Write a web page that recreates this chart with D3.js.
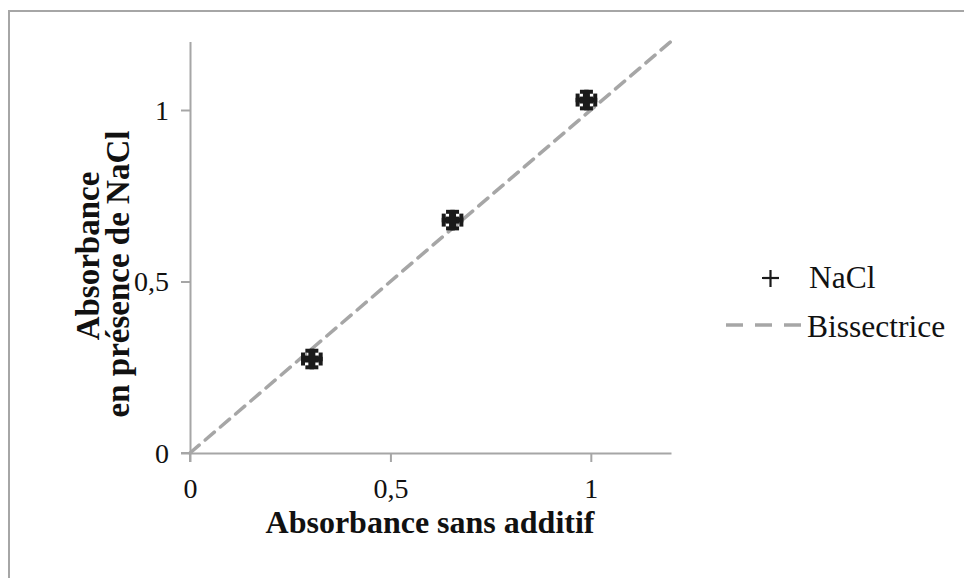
<!DOCTYPE html>
<html><head><meta charset="utf-8">
<script src="https://cdn.jsdelivr.net/npm/d3@7"></script>
<style>body{margin:0;background:#fff;}svg{display:block;}</style>
</head><body>
<svg id="c" width="964" height="578"></svg>
<script>
const xValues = [0.304, 0.655, 0.989];
const yValues = [0.274, 0.679, 1.029];
const xErr = [0.027, 0.027, 0.027];
const yErr = [0.03, 0.03, 0.03];
const bisector = [[0, 0], [1.2, 1.2]];
const xTicks = [0, 0.5, 1];
const yTicks = [0, 0.5, 1];
const tickLabels = {0: "0", 0.5: "0,5", 1: "1"};
const seriesNames = ["NaCl", "Bissectrice"];

const svg = d3.select("#c");
const font = "'Liberation Serif', 'Times New Roman', serif";
const axisColor = "#a6a6a6";

svg.append("rect").attr("x", 9).attr("y", 11).attr("width", 1000).attr("height", 1000)
  .attr("fill", "none").attr("stroke", axisColor).attr("stroke-width", 2);

const x = d3.scaleLinear().domain([0, 1.2]).range([190, 671]);
const y = d3.scaleLinear().domain([0, 1.2]).range([453, 41.4]);

const xAxis = svg.append("g").attr("transform", `translate(0,${y(0)})`)
  .call(d3.axisBottom(x).tickValues(xTicks).tickSize(9).tickSizeOuter(0).tickFormat(d => tickLabels[d]));
const yAxis = svg.append("g").attr("transform", `translate(${x(0)},0)`)
  .call(d3.axisLeft(y).tickValues(yTicks).tickSize(9).tickSizeOuter(0).tickFormat(d => tickLabels[d]));
[xAxis, yAxis].forEach(g => {
  g.attr("font-size", null).attr("font-family", null);
  g.select(".domain").attr("stroke", axisColor).attr("stroke-width", 2);
  g.selectAll(".tick line").attr("stroke", axisColor).attr("stroke-width", 2);
  g.selectAll("text").style("font-family", font).style("font-size", "28px").attr("fill", "#111");
});
xAxis.selectAll("text").attr("dy", null).attr("y", 45);
yAxis.selectAll("text").attr("x", -21).attr("dy", "0.33em");
svg.append("line").attr("x1", x(0) - 9).attr("x2", x(0)).attr("y1", y(0)).attr("y2", y(0))
  .attr("stroke", axisColor).attr("stroke-width", 2);
svg.append("line").attr("x1", x(0)).attr("x2", x(0)).attr("y1", y(0)).attr("y2", y(0) + 9)
  .attr("stroke", axisColor).attr("stroke-width", 2);

// bisector
svg.append("path").datum(bisector)
  .attr("d", d3.line().x(d => x(d[0])).y(d => y(d[1])))
  .attr("fill", "none").attr("stroke", axisColor).attr("stroke-width", 3.5)
  .attr("stroke-dasharray", "12,8").attr("stroke-linecap", "round");

// points with error bars
const pts = xValues.map((v, i) => ({x: v, y: yValues[i], ex: xErr[i], ey: yErr[i]}));
const g = svg.append("g").attr("stroke", "#1a1a1a").attr("fill", "none");
pts.forEach(p => {
  const cx = x(p.x), cy = y(p.y);
  const x0 = x(p.x - p.ex), x1 = x(p.x + p.ex), y0 = y(p.y - p.ey), y1 = y(p.y + p.ey);
  g.append("line").attr("x1", x0).attr("x2", x1).attr("y1", cy).attr("y2", cy).attr("stroke-width", 4.5);
  g.append("line").attr("x1", cx).attr("x2", cx).attr("y1", y0).attr("y2", y1).attr("stroke-width", 4.5);
  g.append("line").attr("x1", x0 + 2).attr("x2", x0 + 2).attr("y1", cy - 6.5).attr("y2", cy + 6.5).attr("stroke-width", 4);
  g.append("line").attr("x1", x1 - 2).attr("x2", x1 - 2).attr("y1", cy - 6.5).attr("y2", cy + 6.5).attr("stroke-width", 4);
  g.append("line").attr("x1", cx - 6.5).attr("x2", cx + 6.5).attr("y1", y0 - 2).attr("y2", y0 - 2).attr("stroke-width", 4);
  g.append("line").attr("x1", cx - 6.5).attr("x2", cx + 6.5).attr("y1", y1 + 2).attr("y2", y1 + 2).attr("stroke-width", 4);
  g.append("line").attr("x1", cx - 7).attr("x2", cx + 7).attr("y1", cy).attr("y2", cy).attr("stroke-width", 7);
  g.append("line").attr("x1", cx).attr("x2", cx).attr("y1", cy - 7).attr("y2", cy + 7).attr("stroke-width", 7);
});

// legend
const lg = svg.append("g");
lg.append("line").attr("x1", 762).attr("x2", 779).attr("y1", 278).attr("y2", 278).attr("stroke", "#1a1a1a").attr("stroke-width", 2.2);
lg.append("line").attr("x1", 770.5).attr("x2", 770.5).attr("y1", 270).attr("y2", 287).attr("stroke", "#1a1a1a").attr("stroke-width", 2.2);
lg.append("text").attr("x", 809).attr("y", 288).text(seriesNames[0]);
lg.append("line").attr("x1", 726).attr("x2", 802).attr("y1", 325).attr("y2", 325)
  .attr("stroke", axisColor).attr("stroke-width", 3.5).attr("stroke-dasharray", "17,12");
lg.append("text").attr("x", 807).attr("y", 337).text(seriesNames[1]);
lg.selectAll("text").style("font-family", font).style("font-size", "31.5px").attr("fill", "#111");

// axis titles
svg.append("text").attr("x", 430).attr("y", 533).attr("text-anchor", "middle")
  .style("font-family", font).style("font-size", "32px").attr("font-weight", "bold").attr("fill", "#111")
  .text("Absorbance sans additif");
const yt = svg.append("text").attr("transform", "rotate(-90)")
  .attr("text-anchor", "middle").style("font-family", font).style("font-size", "33px")
  .attr("font-weight", "bold").attr("fill", "#111");
yt.append("tspan").attr("x", -256).attr("y", 99).text("Absorbance");
yt.append("tspan").attr("x", -274).attr("y", 129).text("en présence de NaCl");
</script>
</body></html>
